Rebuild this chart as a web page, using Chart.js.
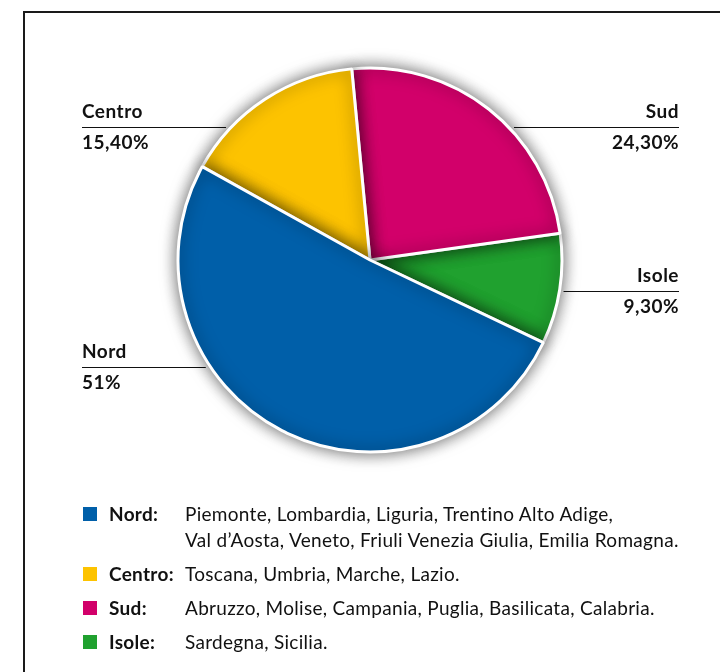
<!DOCTYPE html>
<html>
<head>
<meta charset="utf-8">
<script src="https://cdn.jsdelivr.net/npm/chart.js@4.4.1/dist/chart.umd.min.js"></script>
<style>
  html, body { margin: 0; padding: 0; background: #fff; }
  body { width: 720px; height: 672px; position: relative; overflow: hidden;
         font-family: Lato, "Open Sans", sans-serif; color: #111; }
  #frame { position: absolute; left: 23px; top: 11px; right: -10px; bottom: -10px;
           border-left: 2px solid #1a1a1a; border-top: 2px solid #1a1a1a; }
  #pie { position: absolute; left: 0; top: 0; }
  #legend { position: absolute; left: 83px; top: 501px; font-size: 19px; line-height: 26px;
            letter-spacing: 0.3px; }
  .row { position: relative; margin-bottom: 8px; padding-left: 102px; white-space: pre-line; }
  .sw { position: absolute; left: 0; top: 6px; width: 14px; height: 14px; }
  .lab { position: absolute; left: 26px; top: 0; font-weight: bold; }
</style>
</head>
<body>
<div id="frame"></div>
<canvas id="pie" width="720" height="672"></canvas>
<div id="legend"></div>
<script>
(function () {
  'use strict';

  // ── Dati ───────────────────────────────────────────────────────────────────
  var regions     = ['Nord', 'Centro', 'Sud', 'Isole'];
  var shares      = [51, 15.4, 24.3, 9.3];
  var shareLabels = ['51%', '15,40%', '24,30%', '9,30%'];
  var colors      = ['#005fa9', '#fdc300', '#d2006a', '#20a12f'];
  var members     = [
    'Piemonte, Lombardia, Liguria, Trentino Alto Adige,\nVal d\u2019Aosta, Veneto, Friuli Venezia Giulia, Emilia Romagna.',
    'Toscana, Umbria, Marche, Lazio.',
    'Abruzzo, Molise, Campania, Puglia, Basilicata, Calabria.',
    'Sardegna, Sicilia.'
  ];

  // posizione delle etichette (linea orizzontale + testo sopra/sotto)
  var callouts = [
    { x: 82,  y: 367, left: true  },
    { x: 82,  y: 127, left: true  },
    { x: 679, y: 127, left: false },
    { x: 679, y: 291, left: false }
  ];

  // ── Plugin: etichette + spicchi con ombra, disegnati in ordine inverso ─────
  var pieStyle = {
    id: 'pieStyle',
    beforeDatasetsDraw: function (chart) {
      var ctx = chart.ctx;
      var meta = chart.getDatasetMeta(0);
      var a0 = meta.data[0];
      var cx = a0.x, cy = a0.y, r = a0.outerRadius + 4;

      ctx.save();
      ctx.strokeStyle = '#111';
      ctx.fillStyle = '#111';
      ctx.lineWidth = 1;
      ctx.font = 'bold 19px Lato';
      if ('letterSpacing' in ctx) ctx.letterSpacing = '0.5px';
      ctx.textBaseline = 'alphabetic';
      callouts.forEach(function (c, i) {
        var dy = c.y - cy;
        var dx = Math.sqrt(Math.max(r * r - dy * dy, 0));
        var edge = c.left ? cx - dx : cx + dx;
        ctx.beginPath();
        ctx.moveTo(c.x, c.y + 0.5);
        ctx.lineTo(edge, c.y + 0.5);
        ctx.stroke();
        ctx.textAlign = c.left ? 'left' : 'right';
        ctx.fillText(regions[i], c.x, c.y - 9);
        ctx.fillText(shareLabels[i], c.x, c.y + 22);
      });
      ctx.restore();

      ctx.save();
      ctx.shadowColor = 'rgba(0,0,0,0.6)';
      ctx.shadowBlur = 16;
      for (var k = meta.data.length - 1; k >= 0; k--) meta.data[k].draw(ctx, chart.chartArea);
      ctx.restore();
      return false;
    }
  };

  new Chart(document.getElementById('pie'), {
    type: 'pie',
    data: {
      labels: regions,
      datasets: [{
        data: shares,
        backgroundColor: colors,
        borderColor: '#fff',
        borderWidth: 3,
        radius: 192
      }]
    },
    options: {
      responsive: false,
      animation: false,
      rotation: 115.5,
      layout: { padding: { left: 20, right: 0, top: 0, bottom: 152 } },
      plugins: { legend: { display: false }, tooltip: { enabled: false } }
    },
    plugins: [pieStyle]
  });

  // ── Legenda ────────────────────────────────────────────────────────────────
  var legend = document.getElementById('legend');
  regions.forEach(function (name, i) {
    var row = document.createElement('div');
    row.className = 'row';
    var sw = document.createElement('span');
    sw.className = 'sw';
    sw.style.background = colors[i];
    var lab = document.createElement('span');
    lab.className = 'lab';
    lab.textContent = name + ':';
    row.appendChild(sw);
    row.appendChild(lab);
    row.appendChild(document.createTextNode(members[i]));
    legend.appendChild(row);
  });
})();
</script>
</body>
</html>
